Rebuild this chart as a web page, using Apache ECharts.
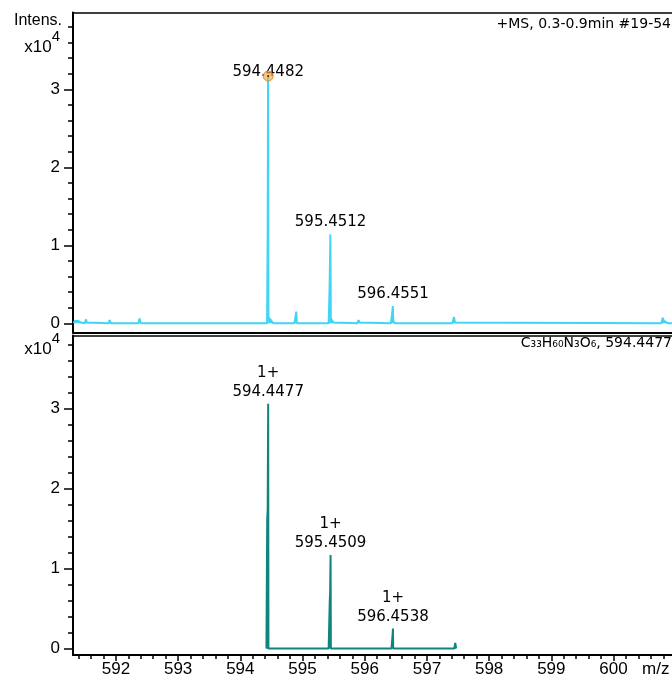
<!DOCTYPE html>
<html>
<head>
<meta charset="utf-8">
<script src="https://cdn.jsdelivr.net/npm/echarts@6/dist/echarts.min.js"></script>
<style>
html, body { margin: 0; padding: 0; background: #fff; }
#chart { width: 672px; height: 687px; }
</style>
</head>
<body>
<div id="chart"></div>
<script>
// 上图：实测谱 (m/z, 强度 x10^4)
const topMz = [591.32, 591.34, 591.36, 591.37, 591.39, 591.41, 591.42, 591.44, 591.46, 591.50, 591.52, 591.53, 591.55,
    591.88, 591.90, 591.92, 592.36, 592.38, 592.40,
    594.43, 594.440, 594.446, 594.452, 594.47, 594.50, 594.53,
    594.87, 594.89, 594.90, 594.905, 594.91,
    595.42, 595.435, 595.448, 595.455, 595.47, 595.50, 595.52,
    595.88, 595.90, 595.92, 595.94,
    596.42, 596.44, 596.452, 596.458, 596.48,
    597.41, 597.435, 597.45, 597.47,
    600.77, 600.79, 600.81, 600.84, 600.88, 600.94];
const topInt = [0, 0.03, 0.05, 0.02, 0.03, 0.05, 0.02, 0.01, 0, 0, 0.05, 0.01, 0,
    0, 0.04, 0, 0, 0.06, 0,
    0, 1.2, 3.17, 0.08, 0.07, 0.03, 0,
    0, 0.10, 0.15, 0.16, 0,
    0, 0.45, 1.14, 0.06, 0.04, 0.01, 0,
    0, 0.04, 0.01, 0,
    0, 0.12, 0.22, 0.04, 0,
    0, 0.08, 0.01, 0,
    0, 0.07, 0.03, 0.01, 0, 0];
const topPeakMz = [594.4482, 595.4512, 596.4551];
const topPeakInt = [3.17, 1.14, 0.22];

// 下图：理论同位素分布
const botMz = [594.42, 594.432, 594.440, 594.4477, 594.452,
    595.42, 595.438, 595.444, 595.4509, 595.456,
    596.43, 596.445, 596.449, 596.4538, 596.458,
    597.44, 597.455, 597.47];
const botInt = [0, 1.6, 1.75, 3.06, 0,
    0, 0.6, 0.7, 1.17, 0,
    0, 0.14, 0.16, 0.25, 0,
    0, 0.07, 0];
const botPeakMz = [594.4477, 595.4509, 596.4538];
const botPeakInt = [3.06, 1.17, 0.25];
const botPeakCharge = ['1+', '1+', '1+'];

// 坐标轴刻度
const xMajorTicks = [592, 593, 594, 595, 596, 597, 598, 599, 600];
const yMajorTicks = [0, 1, 2, 3];
const yMinorTicks = [0, 0.2, 0.4, 0.6, 0.8, 1, 1.2, 1.4, 1.6, 1.8, 2, 2.2, 2.4, 2.6, 2.8, 3, 3.2, 3.4, 3.6, 3.8];
const xMinorTicks = [];
for (let k = 0; k <= 47; k++) {
    xMinorTicks.push(Math.round((591.4 + 0.2 * k) * 10) / 10);
}

const topColor = '#40d5f5';
const botColor = '#10857f';
const xMin = 591.31, xMax = 600.94;
const labelFont = 'DejaVu Sans';
const axisFont = 'Liberation Sans';

const chart = echarts.init(document.getElementById('chart'));

function zip(a, b) {
    return a.map((v, i) => [v, b[i]]);
}

function yAxisPair(grid, min, max, extraLabels) {
    const labelVals = yMajorTicks.concat(Object.keys(extraLabels).map(Number));
    return [
        {
            type: 'value', gridIndex: grid, position: 'left', min: min, max: max,
            axisLine: { show: true, lineStyle: { color: '#000', width: 2 } },
            axisTick: { show: true, customValues: yMajorTicks, length: 9, lineStyle: { color: '#000', width: 1.5 } },
            axisLabel: {
                show: true, customValues: labelVals, margin: 13, hideOverlap: false,
                color: '#000', fontFamily: axisFont, fontSize: 17,
                formatter: v => {
                    const key = String(Math.round(v * 10) / 10);
                    if (extraLabels[key]) return extraLabels[key];
                    return String(Math.round(v));
                },
                rich: {
                    a: { fontFamily: axisFont, fontSize: 17, color: '#000', lineHeight: 26, verticalAlign: 'bottom' },
                    s: { fontFamily: axisFont, fontSize: 15, color: '#000', verticalAlign: 'top' }
                }
            },
            splitLine: { show: false }
        },
        {
            type: 'value', gridIndex: grid, position: 'left', min: min, max: max,
            axisLine: { show: false },
            axisTick: { show: true, customValues: yMinorTicks, length: 5, lineStyle: { color: '#000', width: 1.5 } },
            axisLabel: { show: false },
            splitLine: { show: false }
        }
    ];
}

function borderAxis(grid, pos, width) {
    return {
        type: 'value', gridIndex: grid, position: pos, min: xMin, max: xMax,
        axisLine: { show: true, onZero: false, lineStyle: { color: '#000', width: width } },
        axisTick: { show: false }, axisLabel: { show: false }, splitLine: { show: false }
    };
}

const peakLabel = {
    show: true, position: 'top', distance: 5, color: '#000',
    fontFamily: labelFont, fontSize: 15
};

const option = {
    animation: false,
    backgroundColor: '#fff',
    grid: [
        { left: 73, right: 0, top: 12.5, height: 320 },
        { left: 73, right: 0, top: 335.5, height: 319.5 }
    ],
    xAxis: [
        borderAxis(0, 'bottom', 2),
        borderAxis(0, 'top', 1.5),
        {
            type: 'value', gridIndex: 1, position: 'bottom', min: xMin, max: xMax,
            axisLine: { show: true, onZero: false, lineStyle: { color: '#000', width: 2 } },
            axisTick: { show: true, customValues: xMajorTicks, length: 6, lineStyle: { color: '#000', width: 1.5 } },
            axisLabel: {
                show: true, customValues: xMajorTicks, margin: 6,
                color: '#000', fontFamily: axisFont, fontSize: 17
            },
            splitLine: { show: false }
        },
        {
            type: 'value', gridIndex: 1, position: 'bottom', min: xMin, max: xMax,
            axisLine: { show: false, onZero: false },
            axisTick: { show: true, customValues: xMinorTicks, length: 4, lineStyle: { color: '#000', width: 1.5 } },
            axisLabel: { show: false }, splitLine: { show: false }
        },
        borderAxis(1, 'top', 1.5)
    ],
    yAxis: [].concat(
        yAxisPair(0, -0.118, 3.985, { '3.6': '{a|x10}{s|4}' }),
        yAxisPair(1, -0.081, 3.9125, { '3.8': '{a|x10}{s|4}' })
    ),
    series: [
        {
            type: 'line', xAxisIndex: 0, yAxisIndex: 0,
            data: zip(topMz, topInt),
            showSymbol: false, smooth: false,
            lineStyle: { color: topColor, width: 2 },
            areaStyle: { color: topColor, opacity: 1 },
            markPoint: {
                symbol: 'circle', symbolSize: 0,
                label: peakLabel,
                data: topPeakMz.map((mz, i) => ({
                    coord: [mz, topPeakInt[i]],
                    value: mz.toFixed(4),
                    label: i === 0 ? { offset: [0, 9] } : {}
                }))
            }
        },
        {
            // 最高峰上的橙色圆点
            type: 'scatter', xAxisIndex: 0, yAxisIndex: 0,
            data: [[topPeakMz[0], topPeakInt[0]]],
            symbolSize: 10,
            itemStyle: { color: 'rgba(245,170,70,0.85)', borderColor: '#d9822b', borderWidth: 1 },
            z: 5
        },
        {
            type: 'scatter', xAxisIndex: 0, yAxisIndex: 0,
            data: [[topPeakMz[0], topPeakInt[0]]],
            symbolSize: 2,
            itemStyle: { color: '#000' },
            z: 6
        },
        {
            type: 'line', xAxisIndex: 2, yAxisIndex: 2,
            data: zip(botMz, botInt),
            showSymbol: false, smooth: false,
            lineStyle: { color: botColor, width: 2 },
            areaStyle: { color: botColor, opacity: 1 },
            markPoint: {
                symbol: 'circle', symbolSize: 0,
                label: Object.assign({}, peakLabel, { distance: 2, lineHeight: 19, align: 'center' }),
                data: botPeakMz.map((mz, i) => ({
                    coord: [mz, botPeakInt[i]],
                    value: botPeakCharge[i] + '\n' + mz.toFixed(4)
                }))
            }
        }
    ],
    graphic: [
        {
            type: 'text', x: 62, y: 21,
            style: { text: 'Intens.', font: '16px "Liberation Sans"', fill: '#000', align: 'right', verticalAlign: 'middle' }
        },
        {
            type: 'text', right: 1, top: 17,
            style: { text: '+MS, 0.3-0.9min #19-54', font: '14px "DejaVu Sans"', fill: '#000' }
        },
        {
            type: 'text', right: 0, top: 336,
            style: { text: 'C₃₃H₆₀N₃O₆, 594.4477', font: '14px "DejaVu Sans"', fill: '#000' }
        },
        {
            type: 'text', left: 642, top: 661,
            style: { text: 'm/z', font: '17px "Liberation Sans"', fill: '#000' }
        }
    ]
};

chart.setOption(option);
</script>
</body>
</html>
